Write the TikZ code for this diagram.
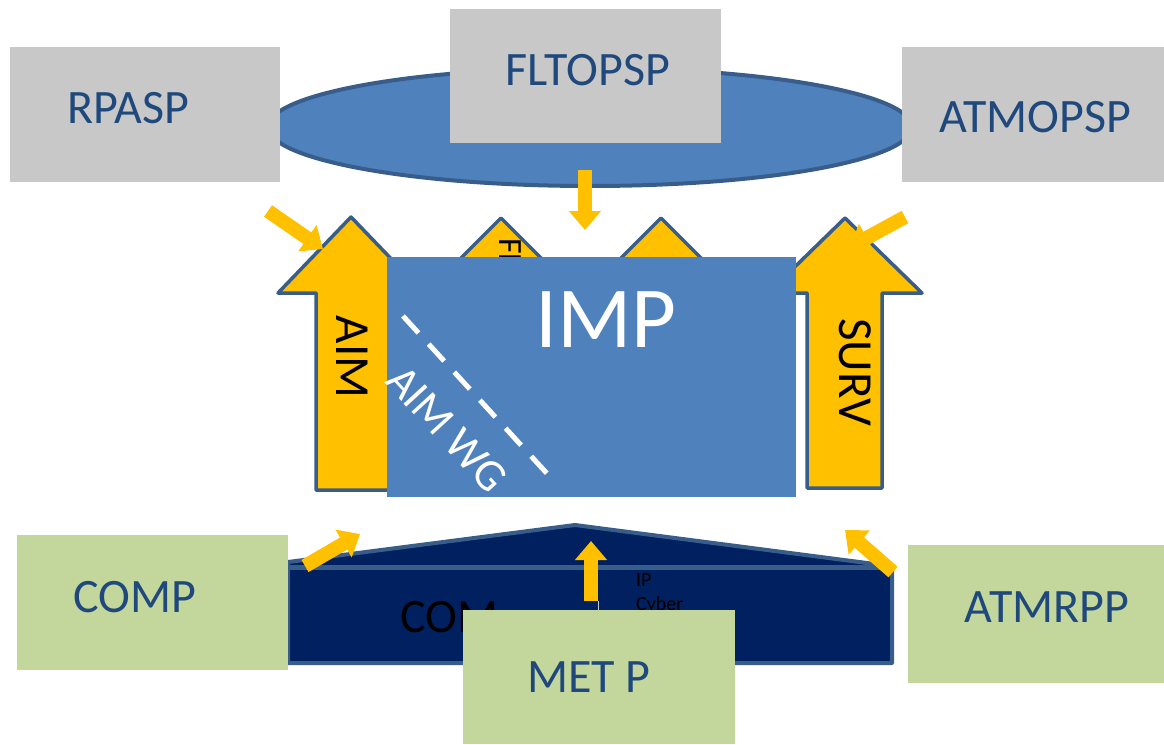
\documentclass[tikz,border=0pt]{standalone}
\usepackage{fontspec}
\setmainfont{Carlito}
\usetikzlibrary{arrows.meta}
\definecolor{boxgray}{RGB}{200,200,200}
\definecolor{boxgreen}{RGB}{195,214,155}
\definecolor{txtblue}{RGB}{31,73,125}
\definecolor{midblue}{RGB}{79,129,189}
\definecolor{edgeblue}{RGB}{56,93,138}
\definecolor{navyc}{RGB}{0,32,96}
\definecolor{gold}{RGB}{255,192,0}
\begin{document}
\begin{tikzpicture}[x=1pt,y=-1pt,
  gbox/.style={fill=boxgray, draw=none, inner sep=0pt},
  grbox/.style={fill=boxgreen, draw=none, inner sep=0pt},
  boxtext/.style={text=txtblue, font=\fontsize{48}{52}\selectfont, inner sep=0pt},
  bigarrow/.style={fill=gold, draw=edgeblue, line width=3.5pt, line join=round},
  yarrow/.style={draw=gold, line width=14pt, -{Triangle[width=31pt,length=19pt]}},
  vtext/.style={text=black, rotate=-90, font=\fontsize{49}{53}\selectfont, inner sep=0pt}]
\useasboundingbox (0,0) rectangle (1164,744);

% top ellipse
\draw[fill=midblue, draw=edgeblue, line width=4pt] (590,127) ellipse [x radius=322pt, y radius=59pt];

% top boxes
\node[gbox, minimum width=270pt, minimum height=135pt] (rpasp) at (145,114.5) {};
\node[boxtext] at (128,108) {RPASP};
\node[gbox, minimum width=271pt, minimum height=134pt] (fltopsp) at (585.5,76) {};
\node[boxtext] at (588,70) {FLTOPSP};
\node[gbox, minimum width=262pt, minimum height=135pt] (atmopsp) at (1033,114.5) {};
\node[boxtext] at (1035,117) {ATMOPSP};

% big block arrows
\draw[bigarrow] (316,490) -- (316,293) -- (278,293) -- (351,217) -- (424,293) -- (390,293) -- (390,490) -- cycle;
\draw[bigarrow] (465,330) -- (465,293) -- (426,293) -- (501,218) -- (576,293) -- (537,293) -- (537,330) -- cycle;
\node[vtext, font=\fontsize{34}{38}\selectfont, anchor=west] at (510,238) {FLT};
\draw[bigarrow] (625,330) -- (625,293) -- (586,293) -- (661,218) -- (736,293) -- (697,293) -- (697,330) -- cycle;
\draw[bigarrow] (882,488) -- (882,293) -- (922,293) -- (845,218) -- (768,293) -- (807,293) -- (807,488) -- cycle;
\node[vtext] at (352,357) {AIM};
\node[vtext] at (855,372) {SURV};

% IMP
\node[fill=midblue, draw=none, minimum width=409pt, minimum height=240pt, inner sep=0pt] (imp) at (591.5,377) {};
\node[text=white, font=\fontsize{87}{91}\selectfont, inner sep=0pt] at (606,320) {IMP};
\coordinate (wg1) at (403,316);
\coordinate (wg2) at (552,479);
\draw[white, line width=5pt, dash pattern=on 23pt off 15pt] (wg1) -- (wg2);
\node[text=white, rotate=-47.5, font=\fontsize{45}{49}\selectfont, inner sep=0pt] at (447,429) {AIM WG};

% top small arrows
\coordinate (t1s) at (268,211); \coordinate (t1e) at (323,249);
\draw[yarrow] (t1s) -- (t1e);
\coordinate (t2s) at (585,170); \coordinate (t2e) at (585,230);
\draw[yarrow] (t2s) -- (t2e);
\coordinate (t3s) at (905,217); \coordinate (t3e) at (850,247);
\draw[yarrow] (t3s) -- (t3e);

% COM house
\draw[fill=navyc, draw=edgeblue, line width=4pt, line join=round]
  (288,562) -- (575,525) -- (890,566) -- (892,566) -- (892,663) -- (288,663) -- cycle;
\draw[edgeblue, line width=5pt] (288,567) -- (892,567);
\node[text=black, anchor=west, font=\fontsize{48}{52}\selectfont, inner sep=0pt] at (400,617) {COM};
\node[text=black, anchor=west, font=\fontsize{20}{24}\selectfont, inner sep=0pt] at (636,580) {IP};
\node[text=black, anchor=west, font=\fontsize{20}{24}\selectfont, inner sep=0pt] at (636,605) {Cyber};

% bottom boxes
\node[grbox, minimum width=271pt, minimum height=135pt] (comp) at (152.5,602.5) {};
\node[boxtext] at (135,597) {COMP};
\node[grbox, minimum width=256pt, minimum height=138pt] (atmrpp) at (1036,614) {};
\node[boxtext] at (1047,607) {ATMRPP};
\node[grbox, minimum width=272pt, minimum height=134pt] (metp) at (599,677) {};
\node[boxtext] at (589,677) {MET P};

% bottom small arrows
\coordinate (b1s) at (305,566); \coordinate (b1e) at (360,534);
\draw[yarrow] (b1s) -- (b1e);
\coordinate (b2s) at (591,601); \coordinate (b2e) at (591,541);
\draw[yarrow] (b2s) -- (b2e);
\draw[gray!40, line width=1pt] (598.5,601) -- (metp.north -| 598.5,0);
\coordinate (b3s) at (893,572); \coordinate (b3e) at (845,530);
\draw[yarrow] (b3s) -- (b3e);
\end{tikzpicture}
\end{document}
